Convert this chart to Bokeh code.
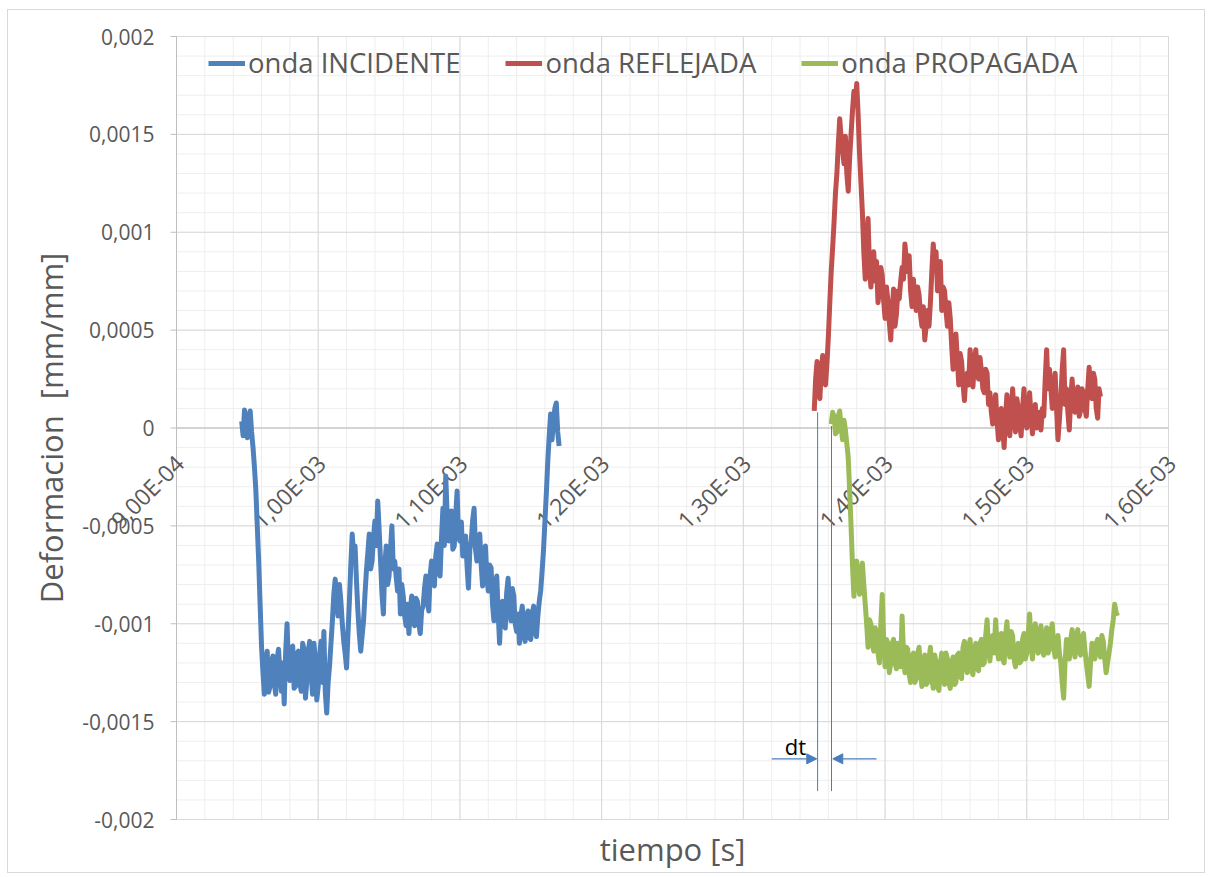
import numpy as np
from bokeh.plotting import figure
from bokeh.models import Range1d, Legend, LegendItem, Label, Arrow, NormalHead
from bokeh.core.properties import value
from bokeh.embed import file_html
from bokeh.resources import INLINE

# --- registros de deformacion (tiempo en us, deformacion en microdeformaciones) ---
paso_us = 1.0

t0_incidente_us = 946.0
def_incidente = [
    35, -40, 92, 10, -50, 60, 87, -20, -100, -200,
    -320, -500, -680, -900, -1115, -1250, -1360, -1200, -1140, -1350,
    -1320, -1200, -1165, -1300, -1360, -1180, -1130, -1250, -1345, -1200,
    -1410, -1150, -1000, -1220, -1290, -1120, -1115, -1330, -1320, -1150,
    -1140, -1300, -1345, -1100, -1130, -1380, -1290, -1140, -1090, -1250,
    -1360, -1100, -1190, -1390, -1320, -1160, -1090, -1300, -1040, -1350,
    -1456, -1300, -1215, -1100, -985, -850, -772, -880, -960, -800,
    -885, -1000, -1090, -1150, -1226, -1050, -885, -700, -542, -650,
    -603, -780, -935, -1050, -1140, -1060, -985, -850, -730, -640,
    -542, -720, -680, -560, -475, -600, -373, -520, -680, -850,
    -950, -700, -603, -800, -756, -620, -500, -720, -680, -760,
    -833, -720, -950, -800, -858, -960, -1010, -900, -1050, -920,
    -858, -980, -1010, -870, -885, -1000, -1050, -930, -910, -820,
    -756, -880, -935, -750, -680, -760, -807, -650, -593, -720,
    -756, -560, -410, -600, -245, -450, -577, -480, -424, -620,
    -603, -450, -322, -560, -577, -480, -654, -560, -552, -700,
    -818, -620, -577, -470, -410, -620, -680, -560, -542, -700,
    -807, -640, -603, -760, -833, -700, -715, -900, -985, -800,
    -756, -950, -1100, -900, -885, -1000, -1022, -840, -767, -920,
    -985, -820, -858, -1000, -1040, -950, -1100, -960, -910, -1060,
    -1090, -960, -935, -1070, -1080, -950, -910, -1040, -1065, -960,
    -885, -830, -730, -620, -475, -330, -170, -40, 72, -60,
    35, 100, 128, -20, -92,
]

t0_reflejada_us = 1350.0
def_reflejada = [
    87, 250, 340, 200, 150, 300, 370, 260, 220, 330,
    470, 640, 800, 920, 1050, 1200, 1300, 1450, 1580, 1480,
    1420, 1350, 1490, 1300, 1210, 1380, 1500, 1620, 1720, 1650,
    1760, 1600, 1400, 1250, 1100, 900, 760, 950, 1070, 820,
    720, 820, 900, 750, 850, 640, 700, 820, 780, 650,
    560, 720, 650, 540, 450, 600, 710, 520, 580, 700,
    660, 750, 820, 760, 940, 860, 800, 880, 700, 620,
    760, 650, 600, 720, 680, 580, 520, 620, 450, 520,
    600, 520, 640, 800, 940, 820, 900, 700, 760, 850,
    600, 720, 700, 600, 520, 640, 560, 420, 300, 420,
    480, 350, 220, 380, 340, 230, 140, 260, 280, 220,
    400, 300, 210, 330, 400, 300, 250, 360, 290, 200,
    180, 300, 280, 120, 180, 80, 20, 120, 170, 40,
    -60, 60, 100, 0, -100, 60, 170, 60, -40, 80,
    200, 80, -20, 150, 100, 20, -40, 100, 200, 80,
    0, 80, 180, 60, -30, 60, 120, 0, 20, 80,
    -10, 100, 60, 250, 400, 200, 300, 200, 100, 180,
    280, 100, -60, 40, 150, 300, 400, 120, 200, 80,
    -10, 150, 250, 120, 80, 150, 210, 60, 90, 200,
    180, 100, 60, 200, 310, 200, 150, 280, 250, 100,
    50, 200, 160,
]

t0_propagada_us = 1362.0
def_propagada = [
    20, 80, 60, -30, -20, 60, 87, 0, -60, 40,
    -10, -80, -150, -320, -500, -700, -860, -720, -680, -800,
    -850, -720, -690, -800, -900, -1000, -1120, -980, -1000, -1100,
    -1140, -1020, -1050, -1150, -1200, -1000, -850, -1080, -1220, -1080,
    -1100, -1250, -1200, -1100, -1080, -1200, -1230, -1100, -1120, -1220,
    -960, -1150, -1250, -1120, -1130, -1260, -1300, -1170, -1150, -1300,
    -1280, -1150, -1120, -1250, -1320, -1200, -1160, -1310, -1300, -1180,
    -1120, -1280, -1330, -1160, -1200, -1320, -1340, -1200, -1150, -1280,
    -1310, -1150, -1180, -1300, -1330, -1200, -1170, -1310, -1300, -1160,
    -1150, -1270, -1280, -1120, -1090, -1220, -1250, -1120, -1080, -1240,
    -1260, -1130, -1100, -1230, -1240, -1100, -1080, -1210, -1200, -1060,
    -980, -1120, -1190, -1080, -1060, -1150, -980, -1100, -1180, -1080,
    -1050, -1180, -1200, -1060, -990, -1120, -1170, -1040, -1060, -1180,
    -1220, -1120, -1100, -1200, -1190, -1080, -1050, -1180, -1150, -1050,
    -950, -1100, -1180, -1060, -1000, -1120, -1150, -1050, -1010, -1140,
    -1160, -1060, -1020, -1150, -1130, -1040, -1000, -1120, -1170, -1100,
    -1060, -1150, -1200, -1300, -1380, -1200, -1080, -1150, -1180, -1080,
    -1030, -1130, -1170, -1060, -1030, -1140, -1160, -1080, -1050, -1130,
    -1200, -1260, -1320, -1200, -1100, -1160, -1180, -1100, -1080, -1150,
    -1170, -1060, -1090, -1180, -1250, -1200, -1150, -1100, -1030, -980,
    -900, -940, -960,
]

nombres = ["onda INCIDENTE", "onda REFLEJADA", "onda PROPAGADA"]
colores = ["#4F81BD", "#C0504D", "#9BBB59"]

# ejes
x_ticks = [9.0e-4, 1.0e-3, 1.1e-3, 1.2e-3, 1.3e-3, 1.4e-3, 1.5e-3, 1.6e-3]
x_tick_labels = ["9,00E-04", "1,00E-03", "1,10E-03", "1,20E-03", "1,30E-03",
                 "1,40E-03", "1,50E-03", "1,60E-03"]
y_ticks = [-0.002, -0.0015, -0.001, -0.0005, 0.0, 0.0005, 0.001, 0.0015, 0.002]
y_tick_labels = ["-0,002", "-0,0015", "-0,001", "-0,0005", "0", "0,0005", "0,001",
                 "0,0015", "0,002"]

# cota del desfase dt entre la onda reflejada y la propagada (us, microdeformaciones)
dt_inicio_us = 1352.4
dt_fin_us = 1362.2
dt_tope_reflejada = 80
dt_tope_propagada = 10
dt_pie = -1855
dt_flecha_y = -1690
dt_flecha_izq_us = 1320.0
dt_flecha_der_us = 1394.0
dt_texto_us = 1336.8
dt_texto_y = -1625


def serie(t0_us, valores):
    t = (t0_us + paso_us * np.arange(len(valores))) * 1e-6
    return t, np.asarray(valores, dtype=float) * 1e-6


FONT = "Open Sans"
GRIS = "#595959"

# lienzo completo como area de dibujo: el rectangulo de datos ocupa estos pixeles
W, H = 1198, 864
PX_IZQ, PX_DER, PX_SUP, PX_INF = 168, 1160, 26, 809
X_MIN, X_MAX = x_ticks[0], x_ticks[-1]
Y_MIN, Y_MAX = y_ticks[0], y_ticks[-1]
sx = (PX_DER - PX_IZQ) / (X_MAX - X_MIN)
sy = (PX_INF - PX_SUP) / (Y_MAX - Y_MIN)

p = figure(width=W, height=H,
           x_range=Range1d(X_MIN - PX_IZQ / sx, X_MAX + (W - PX_DER) / sx),
           y_range=Range1d(Y_MIN - (H - PX_INF) / sy, Y_MAX + PX_SUP / sy),
           x_axis_type=None, y_axis_type=None,
           output_backend="svg", toolbar_location=None, min_border=0,
           margin=(9, 0, 0, 7), styles={"border": "1px solid #D9D9D9"})
p.background_fill_color = "white"
p.border_fill_color = "white"
p.outline_line_color = None
p.xgrid.visible = False
p.ygrid.visible = False

# rejilla secundaria y principal
x_minor = [X_MIN + 2e-5 * k for k in range(36)]
y_minor = [Y_MIN + 1e-4 * k for k in range(41)]
p.segment(x0=x_minor, y0=Y_MIN, x1=x_minor, y1=Y_MAX, line_color="#EEEEEE", line_width=1)
p.segment(x0=X_MIN, y0=y_minor, x1=X_MAX, y1=y_minor, line_color="#EEEEEE", line_width=1)
p.segment(x0=x_ticks, y0=Y_MIN, x1=x_ticks, y1=Y_MAX, line_color="#D9D9D9", line_width=1)
p.segment(x0=X_MIN, y0=y_ticks, x1=X_MAX, y1=y_ticks, line_color="#D9D9D9", line_width=1)

# eje vertical, marcas y linea de cero (eje de tiempos)
p.segment(x0=[X_MIN], y0=[Y_MIN], x1=[X_MIN], y1=[Y_MAX], line_color="#BFBFBF", line_width=1)
p.segment(x0=X_MIN - 6 / sx, y0=y_ticks, x1=X_MIN, y1=y_ticks, line_color="#BFBFBF", line_width=1)
p.segment(x0=[X_MIN], y0=[0.0], x1=[X_MAX], y1=[0.0], line_color="#BFBFBF", line_width=1)

# etiquetas de los ejes
p.text(x=X_MIN, y=y_ticks, text=y_tick_labels, x_offset=-22,
       text_align="right", text_baseline="middle",
       text_font=value(FONT), text_font_size="21px", text_color=GRIS)
p.text(x=x_ticks, y=0.0, text=x_tick_labels, angle=np.pi / 4, x_offset=3, y_offset=31,
       text_align="right", text_baseline="middle",
       text_font=value(FONT), text_font_size="23px", text_color=GRIS)
p.text(x=[(X_MIN + X_MAX) / 2], y=[Y_MIN], text=["tiempo [s]"], y_offset=29,
       text_align="center", text_baseline="middle",
       text_font=value(FONT), text_font_size="31px", text_color=GRIS)
p.text(x=[X_MIN], y=[(Y_MIN + Y_MAX) / 2], text=["Deformacion\u00a0 [mm/mm]"],
       angle=np.pi / 2, x_offset=-126,
       text_align="center", text_baseline="middle",
       text_font=value(FONT), text_font_size="31px", text_color=GRIS)

# series
renderers = []
for (t0, vals), color in zip([(t0_incidente_us, def_incidente),
                              (t0_reflejada_us, def_reflejada),
                              (t0_propagada_us, def_propagada)], colores):
    t, e = serie(t0, vals)
    r = p.line(t, e, line_color=color, line_width=5, line_join="round")
    renderers.append(r)

# cota dt
cota = "#4A7EBB"
p.segment(x0=[dt_inicio_us * 1e-6, dt_fin_us * 1e-6],
          y0=[dt_tope_reflejada * 1e-6, dt_tope_propagada * 1e-6],
          x1=[dt_inicio_us * 1e-6, dt_fin_us * 1e-6],
          y1=[dt_pie * 1e-6, dt_pie * 1e-6],
          line_color=cota, line_width=1)
p.add_layout(Arrow(end=NormalHead(size=10, fill_color=cota, line_color=cota),
                   x_start=dt_flecha_izq_us * 1e-6, y_start=dt_flecha_y * 1e-6,
                   x_end=(dt_inicio_us - 0.6) * 1e-6, y_end=dt_flecha_y * 1e-6,
                   line_color=cota, line_width=1.2))
p.add_layout(Arrow(end=NormalHead(size=10, fill_color=cota, line_color=cota),
                   x_start=dt_flecha_der_us * 1e-6, y_start=dt_flecha_y * 1e-6,
                   x_end=(dt_fin_us + 0.9) * 1e-6, y_end=dt_flecha_y * 1e-6,
                   line_color=cota, line_width=1.2))
p.add_layout(Label(x=dt_texto_us * 1e-6, y=dt_texto_y * 1e-6, text="dt",
                   text_align="center", text_baseline="alphabetic",
                   text_font=FONT, text_font_size="22px", text_color="#000000"))

legend = Legend(items=[LegendItem(label=n, renderers=[r]) for n, r in zip(nombres, renderers)],
                orientation="horizontal", location=(PX_IZQ + 32, H - 71),
                glyph_width=37, glyph_height=20, label_standoff=3, spacing=45,
                padding=0, margin=0, background_fill_alpha=0, border_line_alpha=0,
                label_text_font=FONT, label_text_font_size="27.5px", label_text_color=GRIS)
p.add_layout(legend)

open("out.html", "w").write(file_html(p, INLINE))
